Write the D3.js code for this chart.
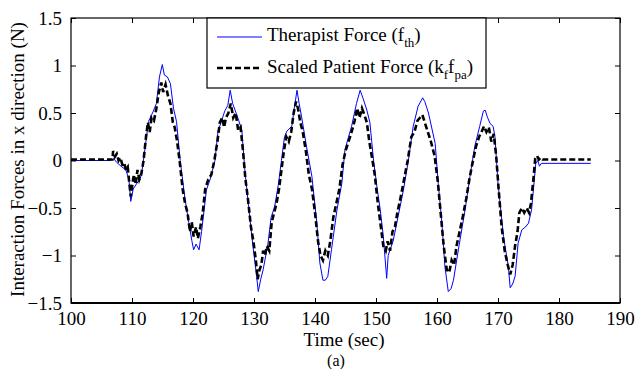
<!DOCTYPE html>
<html>
<head>
<meta charset="utf-8">
<script src="https://cdn.jsdelivr.net/npm/d3@7"></script>
<style>
  body { margin: 0; background: #fff; }
  text { font-family: "Liberation Serif", "Times New Roman", serif; fill: #000; }
</style>
</head>
<body>
<div id="chart"></div>
<script>
// Therapist force (blue, thin)
const thTime = [100, 106.5, 107, 107.5, 108.2, 109, 109.5, 109.8, 110.2, 110.8, 111.3, 111.6, 112.1, 112.7, 113.5, 114.0, 114.5, 114.97, 115.3, 115.8, 116.3, 116.8, 117.3, 117.9, 118.7, 119.3, 119.8, 120.1, 120.5, 121.0, 121.4, 121.7, 122.2, 122.8, 123.6, 124.1, 124.6, 125.2, 125.7, 126.1, 126.5, 126.9, 127.5, 128.0, 128.5, 129.1, 129.9, 130.4, 130.7, 131.1, 131.5, 132.3, 132.8, 133.4, 134.0, 134.5, 135.0, 135.4, 136.2, 136.6, 137.05, 137.4, 137.8, 138.6, 139.5, 140.3, 140.8, 141.3, 141.7, 142.1, 142.7, 143.6, 144.4, 144.9, 145.5, 146.0, 146.8, 147.4, 147.9, 148.5, 149.0, 149.3, 149.6, 150.2, 150.7, 151.2, 151.75, 152.0, 152.3, 152.8, 153.4, 154.5, 155.3, 156.1, 156.9, 157.65, 158.0, 158.6, 159.7, 160.2, 160.8, 161.3, 161.85, 162.3, 162.7, 163.5, 164.6, 165.4, 166.2, 167.0, 167.6, 167.9, 168.3, 168.7, 169.2, 169.5, 170.0, 170.9, 171.7, 172.0, 172.4, 172.8, 173.3, 173.9, 174.5, 175.0, 175.5, 176.2, 176.5, 176.8, 177.1, 185.2];
const thForce = [0, 0, 0.02, -0.02, -0.06, -0.1, -0.2, -0.43, -0.3, -0.24, -0.2, -0.13, 0.11, 0.41, 0.52, 0.6, 0.88, 1.01, 0.9, 0.88, 0.81, 0.55, 0.41, 0, -0.41, -0.65, -0.84, -0.94, -0.88, -0.94, -0.75, -0.59, -0.31, -0.2, 0, 0.31, 0.4, 0.52, 0.58, 0.74, 0.6, 0.53, 0.42, 0.32, -0.1, -0.48, -0.94, -1.2, -1.38, -1.25, -1.15, -0.87, -0.6, -0.48, -0.25, 0, 0.25, 0.31, 0.36, 0.55, 0.74, 0.6, 0.46, 0.15, -0.17, -0.66, -1.08, -1.26, -1.26, -1.22, -0.94, -0.52, -0.24, 0.11, 0.25, 0.36, 0.6, 0.74, 0.65, 0.53, 0.4, 0.2, 0, -0.3, -0.52, -0.8, -1.24, -1.0, -0.94, -0.85, -0.66, -0.31, 0, 0.36, 0.57, 0.66, 0.62, 0.5, 0.18, -0.24, -0.66, -1.12, -1.38, -1.35, -1.26, -0.94, -0.52, -0.17, 0.15, 0.36, 0.52, 0.53, 0.45, 0.39, 0.36, 0.25, -0.24, -0.8, -1.12, -1.34, -1.3, -1.22, -0.87, -0.73, -0.7, -0.66, -0.52, -0.03, 0, -0.06, -0.03, -0.03];

// Scaled patient force (black, dashed)
const paTime = [100, 106.8, 106.9, 107.2, 107.5, 107.8, 108.1, 108.4, 108.7, 109.0, 109.3, 109.5, 109.8, 110.0, 110.3, 110.6, 110.9, 111.2, 111.5, 111.9, 112.3, 112.6, 112.9, 113.2, 113.6, 114.0, 114.4, 114.8, 115.1, 115.5, 115.9, 116.3, 116.7, 117.0, 117.4, 117.8, 118.3, 118.7, 119.1, 119.5, 119.8, 120.1, 120.5, 120.8, 121.2, 121.6, 122.0, 122.5, 123.0, 123.5, 124.0, 124.4, 124.8, 125.1, 125.4, 125.8, 126.2, 126.6, 127.0, 127.4, 127.8, 128.2, 128.6, 129.0, 129.5, 129.9, 130.3, 130.6, 130.9, 131.2, 131.5, 131.8, 132.1, 132.5, 132.9, 133.3, 133.7, 134.1, 134.5, 134.9, 135.3, 135.7, 136.1, 136.5, 136.9, 137.2, 137.6, 138.0, 138.5, 139.0, 139.5, 140.0, 140.5, 140.9, 141.3, 141.7, 142.1, 142.5, 143.0, 143.5, 144.0, 144.5, 145.0, 145.5, 146.0, 146.5, 146.9, 147.3, 147.7, 148.1, 148.5, 148.9, 149.3, 149.8, 150.3, 150.8, 151.2, 151.6, 151.9, 152.3, 152.7, 153.1, 153.5, 154.0, 154.6, 155.2, 155.8, 156.3, 156.8, 157.2, 157.6, 158.0, 158.5, 159.0, 159.6, 160.1, 160.6, 161.1, 161.6, 162.0, 162.4, 162.8, 163.2, 163.7, 164.2, 164.8, 165.3, 165.9, 166.4, 166.9, 167.3, 167.7, 168.1, 168.5, 168.9, 169.3, 169.7, 170.1, 170.6, 171.1, 171.6, 172.0, 172.4, 172.8, 173.2, 173.5, 173.9, 174.3, 174.7, 175.1, 175.4, 175.8, 176.1, 176.4, 176.7, 177.0, 177.3, 185.2];
const paForce = [0.01, 0.01, 0.1, 0.04, 0.07, 0, 0.03, -0.04, -0.02, -0.1, -0.07, -0.2, -0.38, -0.28, -0.15, -0.25, -0.1, -0.2, -0.15, 0, 0.25, 0.4, 0.3, 0.45, 0.42, 0.55, 0.72, 0.82, 0.72, 0.8, 0.68, 0.6, 0.4, 0.35, 0.2, 0, -0.3, -0.45, -0.55, -0.75, -0.65, -0.8, -0.7, -0.82, -0.7, -0.55, -0.3, -0.2, -0.15, 0, 0.2, 0.4, 0.45, 0.35, 0.45, 0.5, 0.6, 0.45, 0.5, 0.32, 0.35, 0.1, -0.2, -0.4, -0.7, -0.85, -1.05, -1.25, -1.15, -1.1, -0.95, -1.0, -0.9, -0.95, -0.65, -0.55, -0.45, -0.3, -0.1, 0.1, 0.25, 0.2, 0.3, 0.5, 0.62, 0.55, 0.4, 0.3, 0.1, -0.15, -0.3, -0.55, -0.85, -1.0, -1.05, -0.95, -1.0, -0.85, -0.6, -0.45, -0.3, -0.05, 0.1, 0.2, 0.3, 0.42, 0.55, 0.45, 0.55, 0.48, 0.4, 0.2, 0.05, -0.15, -0.45, -0.7, -0.9, -0.95, -0.85, -0.95, -0.75, -0.7, -0.55, -0.4, -0.2, 0, 0.25, 0.3, 0.42, 0.45, 0.48, 0.4, 0.3, 0.2, 0.05, -0.2, -0.55, -0.9, -1.15, -1.18, -1.05, -1.1, -0.9, -0.75, -0.6, -0.4, -0.2, 0, 0.15, 0.25, 0.3, 0.36, 0.3, 0.35, 0.2, 0.28, 0.05, -0.3, -0.7, -0.95, -1.1, -1.2, -1.1, -0.9, -0.75, -0.55, -0.5, -0.55, -0.5, -0.55, -0.45, -0.2, 0.02, 0.05, 0.01, 0.03, 0.01, 0.01];

// Axis ticks
const xTicks = [100, 110, 120, 130, 140, 150, 160, 170, 180, 190];
const yTicks = [-1.5, -1, -0.5, 0, 0.5, 1, 1.5];

const width = 635, height = 369;
const padLeft = 71, padRight = 620, padTop = 18, padBottom = 303;

const svg = d3.select('#chart').append('svg')
    .attr('width', width)
    .attr('height', height);

const xScale = d3.scaleLinear().domain([100, 190]).range([padLeft, padRight]);
const yScale = d3.scaleLinear().domain([-1.5, 1.5]).range([padBottom, padTop]);

// Data lines
const line = d3.line().x(d => xScale(d[0])).y(d => yScale(d[1]));
const thData = thTime.map((t, i) => [t, thForce[i]]);
const paData = paTime.map((t, i) => [t, paForce[i]]);

svg.append('path')
    .datum(thData)
    .attr('d', line)
    .attr('fill', 'none')
    .attr('stroke', '#0000ff')
    .attr('stroke-width', 1);

svg.append('path')
    .datum(paData)
    .attr('d', line)
    .attr('fill', 'none')
    .attr('stroke', '#000')
    .attr('stroke-width', 2.6)
    .attr('stroke-dasharray', '6,3');

// Axes, ticks pointing inward
const fmt = d => d3.format('')(d);
svg.append('g')
    .attr('transform', `translate(0, ${padBottom})`)
    .call(d3.axisBottom(xScale).tickValues(xTicks).tickSizeInner(-5).tickSizeOuter(0).tickPadding(9).tickFormat(fmt));
svg.append('g')
    .attr('transform', `translate(0, ${padTop})`)
    .call(d3.axisTop(xScale).tickValues(xTicks).tickSizeInner(-5).tickSizeOuter(0).tickFormat(''));
svg.append('g')
    .attr('transform', `translate(${padLeft}, 0)`)
    .call(d3.axisLeft(yScale).tickValues(yTicks).tickSizeInner(-5).tickSizeOuter(0).tickPadding(9).tickFormat(fmt));
svg.append('g')
    .attr('transform', `translate(${padRight}, 0)`)
    .call(d3.axisRight(yScale).tickValues(yTicks).tickSizeInner(-5).tickSizeOuter(0).tickFormat(''));

svg.selectAll('.domain').remove();
svg.selectAll('.tick line').attr('stroke', '#000');
svg.selectAll('.tick text')
    .style('font-family', '"Liberation Serif", serif')
    .style('font-size', '19px')
    .attr('fill', '#000');

// Frame
svg.append('rect')
    .attr('x', padLeft).attr('y', padTop)
    .attr('width', padRight - padLeft).attr('height', padBottom - padTop)
    .attr('fill', 'none').attr('stroke', '#000').attr('stroke-width', 1.2);
svg.append('line')
    .attr('x1', padLeft).attr('x2', padRight).attr('y1', padBottom).attr('y2', padBottom)
    .attr('stroke', '#000').attr('stroke-width', 2);

// Legend
const legend = svg.append('g');
legend.append('rect')
    .attr('x', 207).attr('y', padTop)
    .attr('width', 279).attr('height', 70)
    .attr('fill', '#fff').attr('stroke', '#000').attr('stroke-width', 1.2);
legend.append('line')
    .attr('x1', 217).attr('x2', 262).attr('y1', 37).attr('y2', 37)
    .attr('stroke', '#0000ff').attr('stroke-width', 1);
legend.append('line')
    .attr('x1', 217).attr('x2', 262).attr('y1', 68).attr('y2', 68)
    .attr('stroke', '#000').attr('stroke-width', 2.4).attr('stroke-dasharray', '6,3');

const t1 = legend.append('text').attr('x', 267).attr('y', 41).style('font-size', '19px');
t1.append('tspan').text('Therapist Force (f');
t1.append('tspan').attr('dy', 6).style('font-size', '13px').text('th');
t1.append('tspan').attr('dy', -6).text(')');

const t2 = legend.append('text').attr('x', 267).attr('y', 73).style('font-size', '19px');
t2.append('tspan').text('Scaled Patient Force (k');
t2.append('tspan').attr('dy', 6).style('font-size', '13px').text('f');
t2.append('tspan').attr('dy', -6).text('f');
t2.append('tspan').attr('dy', 6).style('font-size', '13px').text('pa');
t2.append('tspan').attr('dy', -6).text(')');

// Axis labels
svg.append('text')
    .attr('x', 344).attr('y', 346)
    .attr('text-anchor', 'middle')
    .style('font-size', '19px')
    .text('Time (sec)');
svg.append('text')
    .attr('x', 336).attr('y', 366)
    .attr('text-anchor', 'middle')
    .style('font-size', '16px')
    .text('(a)');
svg.append('text')
    .attr('transform', `translate(24, ${(padTop + padBottom) / 2 - 1}) rotate(-90)`)
    .attr('text-anchor', 'middle')
    .style('font-size', '19px')
    .text('Interaction Forces in x direction (N)');
</script>
</body>
</html>
